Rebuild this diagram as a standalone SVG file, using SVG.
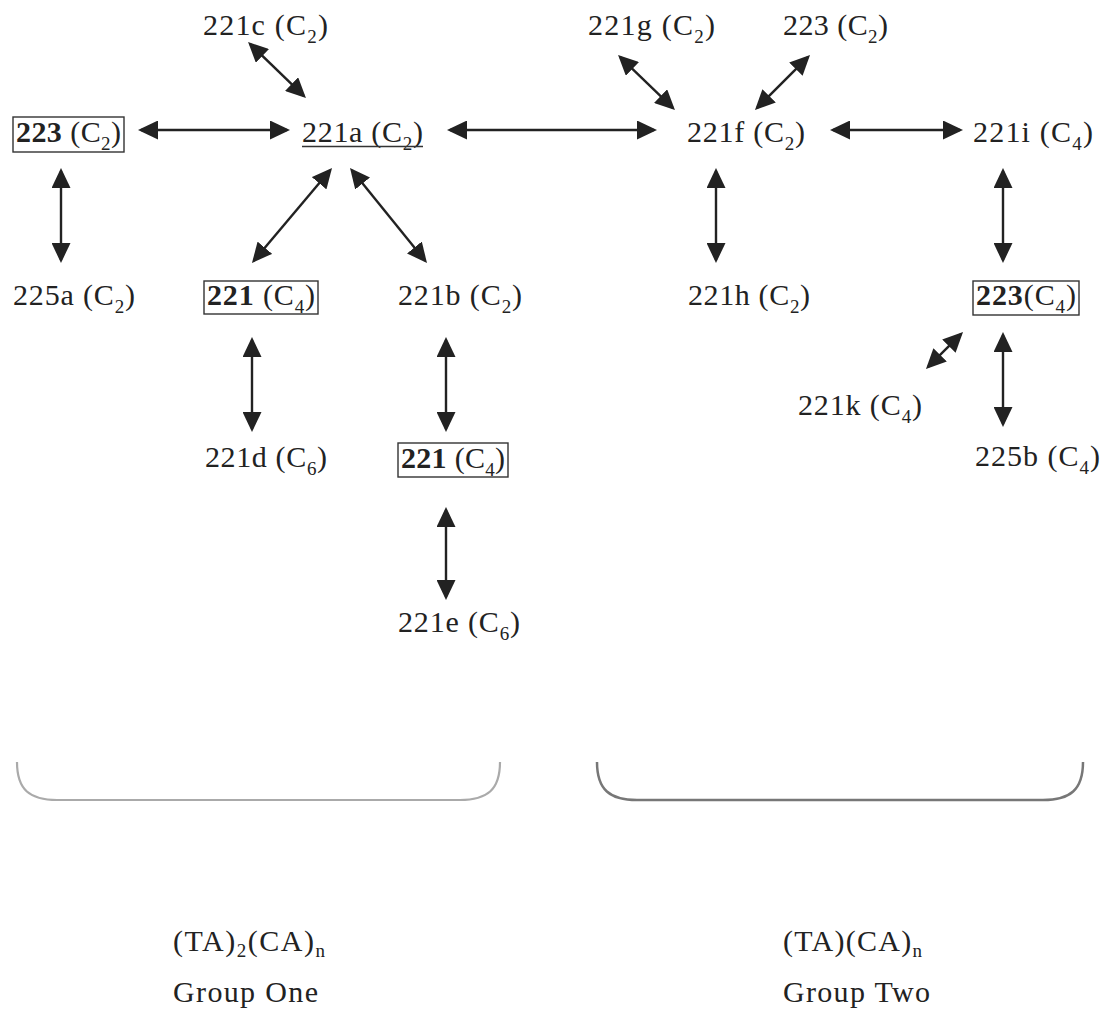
<svg xmlns="http://www.w3.org/2000/svg" width="1110" height="1012" viewBox="0 0 1110 1012">
<style>
  text { font-family: "Liberation Serif", "Times New Roman", serif; font-size: 30px; fill: #222; }
  .b { font-weight: bold; }
  .sub { font-size: 19px; }
  .box { fill: none; stroke: #333; stroke-width: 1.4; }
  .arr { stroke: #222; stroke-width: 2.4; fill: none; marker-start: url(#ah); marker-end: url(#ah); }
  .ul { stroke: #333; stroke-width: 1.4; }
</style>
<defs>
  <marker id="ah" markerUnits="userSpaceOnUse" markerWidth="20" markerHeight="19" viewBox="0 0 20 19" refX="17" refY="9.5" orient="auto-start-reverse">
    <path d="M0,0 L20,9.5 L0,19 z" fill="#222"/>
  </marker>
</defs>
<rect width="1110" height="1012" fill="#fff"/>

<g id="connectors">
  <line class="arr" x1="250.2" y1="44.1" x2="303.8" y2="95.9"/>
  <line class="arr" x1="141" y1="130" x2="287" y2="130"/>
  <line class="arr" x1="450" y1="130" x2="654" y2="130"/>
  <line class="arr" x1="833" y1="130" x2="960" y2="130"/>
  <line class="arr" x1="620.2" y1="57.1" x2="672.8" y2="107.9"/>
  <line class="arr" x1="807.9" y1="57.1" x2="757.1" y2="107.9"/>
  <line class="arr" x1="61" y1="171" x2="61" y2="260"/>
  <line class="arr" x1="330.1" y1="170.3" x2="253.9" y2="260.7"/>
  <line class="arr" x1="351.9" y1="170.3" x2="425.1" y2="260.7"/>
  <line class="arr" x1="716" y1="171" x2="716" y2="260"/>
  <line class="arr" x1="1003" y1="171" x2="1003" y2="260"/>
  <line class="arr" x1="252" y1="340" x2="252" y2="429"/>
  <line class="arr" x1="446" y1="340" x2="446" y2="429"/>
  <line class="arr" x1="446" y1="510" x2="446" y2="597"/>
  <line class="arr" x1="1003" y1="335" x2="1003" y2="424"/>
  <line class="arr" x1="960.9" y1="334.1" x2="928.1" y2="366.9"/>
</g>

<g id="n221c"><text x="203" y="35" textLength="125" lengthAdjust="spacing">221c (C<tspan class="sub" dy="8">2</tspan><tspan dy="-8">)</tspan></text></g>
<g id="n221g"><text x="588" y="35" textLength="127" lengthAdjust="spacing">221g (C<tspan class="sub" dy="8">2</tspan><tspan dy="-8">)</tspan></text></g>
<g id="n223top"><text x="783" y="35" textLength="105" lengthAdjust="spacing">223 (C<tspan class="sub" dy="8">2</tspan><tspan dy="-8">)</tspan></text></g>

<g id="n223left">
  <rect class="box" x="13" y="117" width="111" height="35"/>
  <text x="16" y="142" textLength="105" lengthAdjust="spacing"><tspan class="b">223</tspan> (C<tspan class="sub" dy="8">2</tspan><tspan dy="-8">)</tspan></text>
</g>
<g id="n221a">
  <text x="302" y="142" textLength="121" lengthAdjust="spacing">221a (C<tspan class="sub" dy="8">2</tspan><tspan dy="-8">)</tspan></text>
  <line class="ul" x1="302" y1="146.5" x2="423" y2="146.5"/>
</g>
<g id="n221f"><text x="687" y="142" textLength="118" lengthAdjust="spacing">221f (C<tspan class="sub" dy="8">2</tspan><tspan dy="-8">)</tspan></text></g>
<g id="n221i"><text x="973" y="142" textLength="120" lengthAdjust="spacing">221i (C<tspan class="sub" dy="8">4</tspan><tspan dy="-8">)</tspan></text></g>

<g id="n225a"><text x="13" y="305" textLength="122" lengthAdjust="spacing">225a (C<tspan class="sub" dy="8">2</tspan><tspan dy="-8">)</tspan></text></g>
<g id="n221box1">
  <rect class="box" x="204" y="281" width="114" height="33"/>
  <text x="207" y="305" textLength="108" lengthAdjust="spacing"><tspan class="b">221</tspan> (C<tspan class="sub" dy="8">4</tspan><tspan dy="-8">)</tspan></text>
</g>
<g id="n221b"><text x="398" y="305" textLength="124" lengthAdjust="spacing">221b (C<tspan class="sub" dy="8">2</tspan><tspan dy="-8">)</tspan></text></g>
<g id="n221h"><text x="688" y="305" textLength="122" lengthAdjust="spacing">221h (C<tspan class="sub" dy="8">2</tspan><tspan dy="-8">)</tspan></text></g>
<g id="n223box">
  <rect class="box" x="973" y="281" width="106" height="34"/>
  <text x="976" y="305" textLength="100" lengthAdjust="spacing"><tspan class="b">223</tspan>(C<tspan class="sub" dy="8">4</tspan><tspan dy="-8">)</tspan></text>
</g>

<g id="n221k"><text x="798" y="415" textLength="124" lengthAdjust="spacing">221k (C<tspan class="sub" dy="8">4</tspan><tspan dy="-8">)</tspan></text></g>
<g id="n221d"><text x="205" y="467" textLength="122" lengthAdjust="spacing">221d (C<tspan class="sub" dy="8">6</tspan><tspan dy="-8">)</tspan></text></g>
<g id="n221box2">
  <rect class="box" x="398" y="443" width="110" height="34"/>
  <text x="401" y="468" textLength="104" lengthAdjust="spacing"><tspan class="b">221</tspan> (C<tspan class="sub" dy="8">4</tspan><tspan dy="-8">)</tspan></text>
</g>
<g id="n225b"><text x="975" y="466" textLength="125" lengthAdjust="spacing">225b (C<tspan class="sub" dy="8">4</tspan><tspan dy="-8">)</tspan></text></g>
<g id="n221e"><text x="398" y="632" textLength="122" lengthAdjust="spacing">221e (C<tspan class="sub" dy="8">6</tspan><tspan dy="-8">)</tspan></text></g>

<g id="groupOne">
  <path d="M17,762 C17,790 30,800 57,800 L460,800 C487,800 500,790 500,762" fill="none" stroke="#aaa" stroke-width="2.2"/>
  <text x="173" y="951" textLength="152" lengthAdjust="spacing">(TA)<tspan class="sub" dy="6">2</tspan><tspan dy="-6">(CA)</tspan><tspan class="sub" dy="6">n</tspan></text>
  <text x="173" y="1002" textLength="145" lengthAdjust="spacing">Group One</text>
</g>
<g id="groupTwo">
  <path d="M597,762 C597,790 610,800 637,800 L1043,800 C1070,800 1083,790 1083,762" fill="none" stroke="#777" stroke-width="2.5"/>
  <text x="783" y="951" textLength="139" lengthAdjust="spacing">(TA)(CA)<tspan class="sub" dy="6">n</tspan></text>
  <text x="783" y="1002" textLength="147" lengthAdjust="spacing">Group Two</text>
</g>
</svg>
